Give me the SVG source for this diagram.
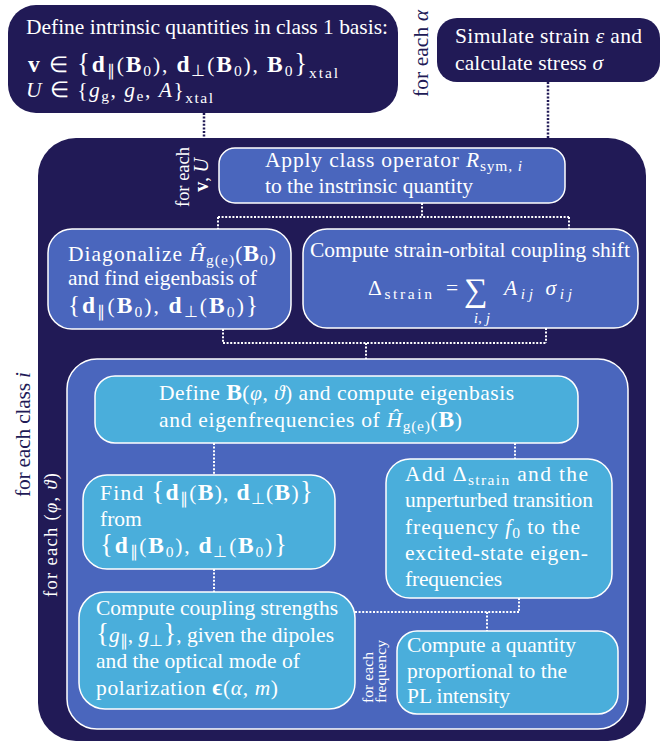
<svg xmlns="http://www.w3.org/2000/svg" width="668" height="742" viewBox="0 0 668 742">
<style>
.navy{fill:#211a56}
.mid{fill:#4a66bd;stroke:#fff;stroke-width:1.5}
.light{fill:#4aaedb;stroke:#fff;stroke-width:1.5}
text{font-family:"Liberation Serif","Times New Roman",serif;font-size:21.5px;fill:#fff}
.i{font-style:italic}
.b{font-weight:bold;font-size:23.5px}
.s{font-size:15.5px}
.big{font-size:27px}
.dotw{stroke:#fff;stroke-width:2;stroke-dasharray:2 1.6;fill:none}
.dotn{stroke:#211a56;stroke-width:2.5;stroke-dasharray:2 1.6;fill:none}
</style>
<rect width="668" height="742" fill="#fff"/>

<g id="intrinsic">
<rect class="navy" x="8" y="5" width="390" height="108" rx="28"/>
<text x="26" y="34" textLength="362">Define intrinsic quantities in class 1 basis:</text>
<text x="28" y="72" textLength="310"><tspan class="b">v</tspan> ∈ <tspan class="big">{</tspan><tspan class="b">d</tspan><tspan class="s" dy="4">∥</tspan><tspan dy="-4">(</tspan><tspan class="b">B</tspan><tspan class="s" dy="4">0</tspan><tspan dy="-4">), </tspan><tspan class="b">d</tspan><tspan class="s" dy="4">⊥</tspan><tspan dy="-4">(</tspan><tspan class="b">B</tspan><tspan class="s" dy="4">0</tspan><tspan dy="-4">), </tspan><tspan class="b">B</tspan><tspan class="s" dy="4">0</tspan><tspan class="big" dy="-4">}</tspan><tspan class="s" dy="6">xtal</tspan></text>
<text x="26" y="97" textLength="187"><tspan class="i">U</tspan> ∈ {<tspan class="i">g</tspan><tspan class="s" dy="4">g</tspan><tspan dy="-4">, </tspan><tspan class="i">g</tspan><tspan class="s" dy="4">e</tspan><tspan dy="-4">, </tspan><tspan class="i">A</tspan>}<tspan class="s" dy="6">xtal</tspan></text>
</g>

<g id="alpha-label">
<text transform="translate(428,97) rotate(-90)" textLength="87" style="fill:#211a56">for each <tspan class="i">α</tspan></text>
</g>

<g id="strain-sim">
<rect class="navy" x="437" y="18" width="223" height="64" rx="20"/>
<text x="455" y="43" textLength="187">Simulate strain <tspan class="i">ε</tspan> and</text>
<text x="455" y="70" textLength="148">calculate stress <tspan class="i">σ</tspan></text>
</g>

<g id="class-loop">
<rect class="navy" x="38" y="138" width="608" height="603" rx="38"/>
<text transform="translate(30,497) rotate(-90)" textLength="125" style="fill:#211a56">for each class <tspan class="i">i</tspan></text>
<text transform="translate(189,207) rotate(-90)" textLength="60" style="font-size:18.5px">for each</text>
<text transform="translate(208,175) rotate(-90)" text-anchor="middle" style="font-size:18.5px"><tspan style="font-weight:bold;font-size:20px">v</tspan>,  <tspan class="i" style="font-size:20px">U</tspan></text>
</g>

<g id="apply">
<rect class="mid" x="219" y="148" width="346" height="55" rx="16"/>
<text x="265" y="167" textLength="257">Apply class operator  <tspan class="i">R</tspan><tspan class="s" dy="4">sym, </tspan><tspan class="s i">i</tspan></text>
<text x="265" y="193" textLength="208">to the instrinsic quantity</text>
</g>

<g id="diagonalize">
<rect class="mid" x="48" y="229" width="243" height="100" rx="24"/>
<text x="68" y="261" textLength="208">Diagonalize <tspan class="i">Ĥ</tspan><tspan class="s" dy="4">g(e)</tspan><tspan dy="-4">(</tspan><tspan class="b">B</tspan><tspan class="s" dy="4">0</tspan><tspan dy="-4">)</tspan></text>
<text x="68" y="285" textLength="189">and find eigenbasis of</text>
<text x="68" y="313" textLength="190"><tspan style="font-size:25px">{</tspan><tspan class="b">d</tspan><tspan class="s" dy="4">∥</tspan><tspan dy="-4">(</tspan><tspan class="b">B</tspan><tspan class="s" dy="4">0</tspan><tspan dy="-4">), </tspan><tspan class="b">d</tspan><tspan class="s" dy="4">⊥</tspan><tspan dy="-4">(</tspan><tspan class="b">B</tspan><tspan class="s" dy="4">0</tspan><tspan dy="-4">)</tspan><tspan style="font-size:25px">}</tspan></text>
</g>

<g id="strain-shift">
<rect class="mid" x="303" y="229" width="335" height="99" rx="24"/>
<text x="310" y="257" textLength="320">Compute strain-orbital coupling shift</text>
<text x="368" y="295" textLength="64">Δ<tspan class="s" dy="4">strain</tspan></text>
<text x="446" y="295">=</text>
<text x="464" y="301" style="font-size:33px">∑</text>
<text x="504" y="295" textLength="68"><tspan class="i">A</tspan><tspan class="s i" dy="4">ij</tspan><tspan class="i" dy="-4"> σ</tspan><tspan class="s i" dy="4">ij</tspan></text>
<text x="482" y="323" text-anchor="middle" class="s i">i, j</text>
</g>

<g id="field-loop">
<rect class="mid" x="67" y="359" width="561" height="370" rx="30"/>
<text transform="translate(57,597) rotate(-90)" textLength="124" style="font-size:18.5px">for each  (<tspan class="i">φ</tspan>, <tspan class="i">ϑ</tspan>)</text>
</g>

<g id="define-b">
<rect class="light" x="95" y="376" width="483" height="67" rx="20"/>
<text x="159" y="400" textLength="355">Define  <tspan class="b">B</tspan>(<tspan class="i">φ</tspan>, <tspan class="i">ϑ</tspan>) and compute eigenbasis</text>
<text x="159" y="427" textLength="303">and eigenfrequencies of  <tspan class="i">Ĥ</tspan><tspan class="s" dy="4">g(e)</tspan><tspan dy="-4">(</tspan><tspan class="b">B</tspan>)</text>
</g>

<g id="find-dipoles">
<rect class="light" x="83" y="475" width="252" height="94" rx="24"/>
<text x="100" y="500" textLength="213">Find <tspan class="big">{</tspan><tspan class="b">d</tspan><tspan class="s" dy="4">∥</tspan><tspan dy="-4">(</tspan><tspan class="b">B</tspan>), <tspan class="b">d</tspan><tspan class="s" dy="4">⊥</tspan><tspan dy="-4">(</tspan><tspan class="b">B</tspan>)<tspan class="big">}</tspan></text>
<text x="100" y="526">from</text>
<text x="100" y="553" textLength="187"><tspan class="big">{</tspan><tspan class="b">d</tspan><tspan class="s" dy="4">∥</tspan><tspan dy="-4">(</tspan><tspan class="b">B</tspan><tspan class="s" dy="4">0</tspan><tspan dy="-4">), </tspan><tspan class="b">d</tspan><tspan class="s" dy="4">⊥</tspan><tspan dy="-4">(</tspan><tspan class="b">B</tspan><tspan class="s" dy="4">0</tspan><tspan dy="-4">)</tspan><tspan class="big">}</tspan></text>
</g>

<g id="add-shift">
<rect class="light" x="386" y="459" width="226" height="139" rx="24"/>
<text x="405" y="481" textLength="183">Add  Δ<tspan class="s" dy="4">strain</tspan><tspan dy="-4">  and the</tspan></text>
<text x="405" y="507" textLength="188">unperturbed transition</text>
<text x="405" y="534" textLength="175">frequency  <tspan class="i">f</tspan><tspan class="s" dy="4">0</tspan><tspan dy="-4">  to the</tspan></text>
<text x="405" y="560" textLength="183">excited-state eigen-</text>
<text x="405" y="586" textLength="97">frequencies</text>
</g>

<g id="coupling">
<rect class="light" x="79" y="592" width="276" height="117" rx="26"/>
<text x="96" y="615" textLength="242">Compute coupling strengths</text>
<text x="96" y="642" textLength="238"><tspan class="big">{</tspan><tspan class="i">g</tspan><tspan class="s" dy="4">∥</tspan><tspan dy="-4">, </tspan><tspan class="i">g</tspan><tspan class="s" dy="4">⊥</tspan><tspan class="big" dy="-4">}</tspan>, given the dipoles</text>
<text x="96" y="668" textLength="204">and the optical mode of</text>
<text x="96" y="695" textLength="182">polarization <tspan class="b">ϵ</tspan>(<tspan class="i">α</tspan>, <tspan class="i">m</tspan>)</text>
</g>

<g id="pl-intensity">
<rect class="light" x="397" y="631" width="221" height="83" rx="20"/>
<text x="407" y="652" textLength="169">Compute a quantity</text>
<text x="407" y="678" textLength="160">proportional to the</text>
<text x="407" y="703" textLength="103">PL intensity</text>
<text transform="translate(373,703) rotate(-90)" textLength="51" style="font-size:15.5px">for each</text>
<text transform="translate(386,703) rotate(-90)" textLength="63" style="font-size:15.5px">frequency</text>
</g>

<g id="connectors">
<path class="dotn" d="M204 113V138M548 82V138"/>
<path class="dotw" d="M422 203V217M218 217H569M218 217V229M569 217V229"/>
<path class="dotw" d="M223 329V343M546 328V343M223 343H546M366 343V359"/>
<path class="dotw" d="M214 443V475M515 443V459M214 569V592"/>
<path class="dotw" d="M355 612H519M519 598V612M487 612V631"/>
</g>
</svg>
